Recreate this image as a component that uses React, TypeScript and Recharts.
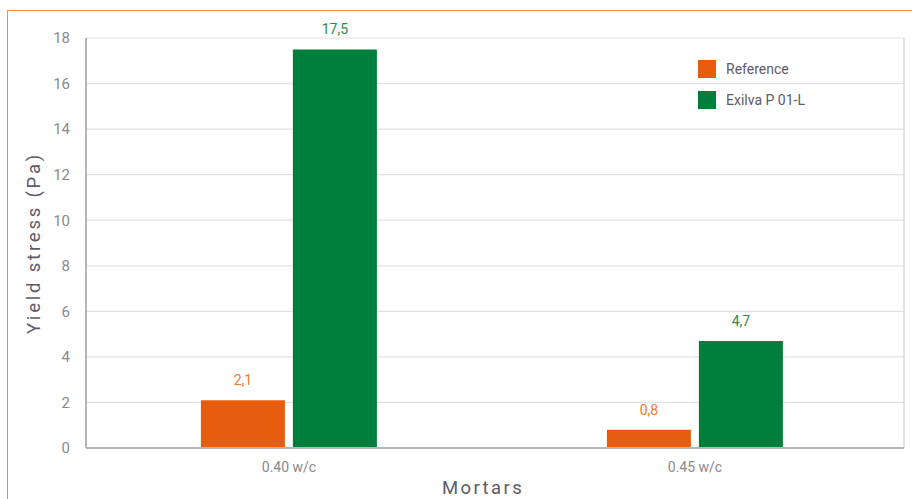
import {
  BarChart,
  Bar,
  XAxis,
  YAxis,
  CartesianGrid,
  Legend,
  LabelList,
  ReferenceLine,
} from "recharts";

const categories = ["0.40 w/c", "0.45 w/c"];
const referenceValues = [2.1, 0.8];
const exilvaValues = [17.5, 4.7];
const yTicks = [0, 2, 4, 6, 8, 10, 12, 14, 16, 18];
const seriesNames = ["Reference", "Exilva P 01-L"];

const ORANGE = "#E85C0E";
const GREEN = "#007E3B";
const GRAY_TEXT = "#8a8a8a";
const TITLE_TEXT = "#5f5a66";
const FRAME = "#F08A4B";
const FONT = "Roboto, 'Noto Sans', sans-serif";

const rows = categories.map((name, i) => ({
  name,
  reference: referenceValues[i],
  exilva: exilvaValues[i],
}));

const fmt = (v: any) => String(v).replace(".", ",");

// legend drawn as two stacked rows, in series order
function LegendBox({ payload }: any) {
  const items = [...(payload || [])].sort(
    (a: any, b: any) => seriesNames.indexOf(a.value) - seriesNames.indexOf(b.value)
  );
  return (
    <div>
      {items.map((it: any) => (
        <div key={it.value} style={{ display: "flex", alignItems: "center", height: 31 }}>
          <span style={{ width: 18, height: 18, background: it.color, display: "inline-block" }} />
          <span style={{ color: TITLE_TEXT, fontSize: 14, marginLeft: 10 }}>{it.value}</span>
        </div>
      ))}
    </div>
  );
}

export default function App() {
  return (
    <div style={{ position: "fixed", left: 0, top: 0, width: 912, height: 499, overflow: "hidden", background: "#fff" }}>
      {/* orange frame around the whole figure */}
      <div style={{ position: "absolute", left: 7, top: 9.5, width: 905, height: 1.5, background: FRAME }} />
      <div style={{ position: "absolute", left: 6.5, top: 9.5, width: 1.5, height: 490, background: FRAME }} />
      <div style={{ position: "absolute", left: 0, top: 0 }}>
        <BarChart
          width={912}
          height={499}
          data={rows}
          margin={{ top: 38, right: 8, bottom: 1, left: 0 }}
          barCategoryGap="28.3%"
          barGap={8}
          style={{ fontFamily: FONT }}
        >
          <CartesianGrid vertical={false} stroke="#e2e2e2" strokeWidth={1.2} />
          <XAxis
            dataKey="name"
            height={50}
            padding={{ left: 0, right: 6 }}
            tickLine={false}
            axisLine={{ stroke: "#b5b5b5", strokeWidth: 2 }}
            tick={{ fontSize: 14, fill: GRAY_TEXT }}
            tickMargin={8}
            label={{
              value: "Mortars",
              position: "insideBottom",
              offset: 4,
              dx: -12,
              fontSize: 18.5,
              fill: TITLE_TEXT,
              letterSpacing: 2.4,
            }}
          />
          <XAxis xAxisId="grid" type="number" domain={[0, 2]} hide />
          <YAxis
            width={86}
            domain={[0, 18]}
            ticks={yTicks}
            tickLine={false}
            axisLine={{ stroke: "#b5b5b5", strokeWidth: 2 }}
            tick={{ fontSize: 15, fill: GRAY_TEXT }}
            tickMargin={10}
            label={{
              value: "Yield stress (Pa)",
              angle: -90,
              position: "insideLeft",
              offset: 33,
              fontSize: 18.5,
              fill: TITLE_TEXT,
              letterSpacing: 2.8,
              style: { textAnchor: "middle" },
            }}
          />
          <ReferenceLine xAxisId="grid" x={1} stroke="#cfcfcf" strokeWidth={1.2} />
          <Legend
            layout="horizontal"
            verticalAlign="middle"
            align="center"
            content={<LegendBox />}
            wrapperStyle={{ position: "absolute", left: 698, top: 53, width: 160 }}
          />
          <Bar dataKey="reference" name={seriesNames[0]} fill={ORANGE} isAnimationActive={false}>
            <LabelList dataKey="reference" position="top" offset={15} fill="#EE7A2C" fontSize={14} formatter={fmt} />
          </Bar>
          <Bar dataKey="exilva" name={seriesNames[1]} fill={GREEN} isAnimationActive={false}>
            <LabelList dataKey="exilva" position="top" offset={15} fill="#2B8C4E" fontSize={14} formatter={fmt} />
          </Bar>
        </BarChart>
      </div>
    </div>
  );
}
